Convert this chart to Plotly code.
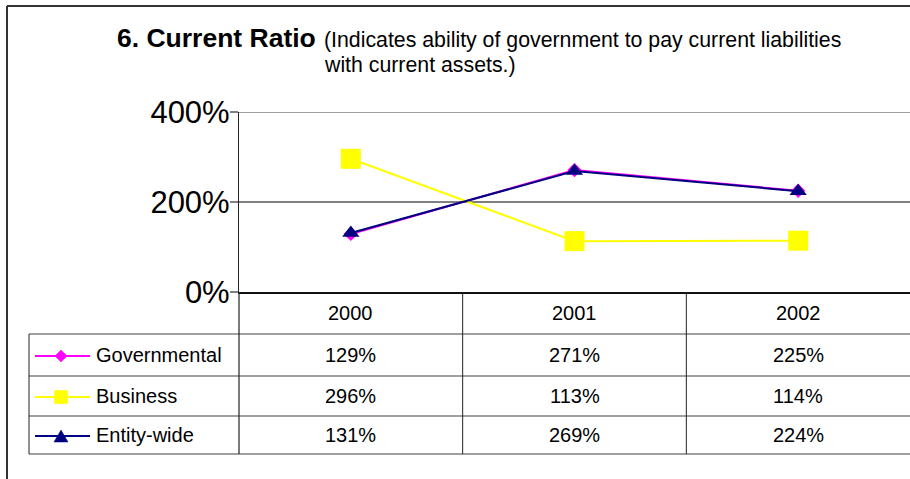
import plotly.graph_objects as go

# ---- data -------------------------------------------------------------
years = ["2000", "2001", "2002"]
governmental = [129, 271, 225]
business = [296, 113, 114]
entity_wide = [131, 269, 224]

series_names = ["Governmental", "Business", "Entity-wide"]
series_values = [governmental, business, entity_wide]
series_colors = ["#FF00FF", "#FFFF00", "#000080"]
series_symbols = ["diamond", "square", "triangle-up"]
chart_marker_sizes = [11, 20, 15]

y_ticks = [0, 200, 400]

# ---- layout geometry (pixels) -----------------------------------------
W, H = 910, 479
PLOT_L, PLOT_TOP, PLOT_BOTTOM = 239, 112, 292
TABLE_L = 29
ROW_EDGES = [292, 334, 376, 416, 454]
FONT = "Liberation Sans, Arial, sans-serif"


def px(x):
    return x / W


def py(y):
    return 1 - y / H


# small key glyphs drawn in pixel units around an anchor point
KEY_PATHS = {
    "diamond": "M0,6 L6,0 L0,-6 L-6,0 Z",
    "square": "M-6.5,-6.5 L6.5,-6.5 L6.5,6.5 L-6.5,6.5 Z",
    "triangle-up": "M-7,-6 L7,-6 L0,6 Z",
}

fig = go.Figure()

xs = list(range(len(years)))
for name, vals, col, sym, ms in zip(series_names, series_values, series_colors,
                                    series_symbols, chart_marker_sizes):
    fig.add_trace(go.Scatter(
        x=xs, y=vals, mode="lines+markers", name=name,
        line=dict(color=col, width=2),
        marker=dict(symbol=sym, size=ms, color=col),
        cliponaxis=False, showlegend=False,
    ))

shapes = []
annotations = []

# outer frame (left and top edges)
shapes.append(dict(type="line", xref="paper", yref="paper",
                   x0=px(7), x1=px(7), y0=py(6), y1=0,
                   line=dict(color="#333333", width=2)))
shapes.append(dict(type="line", xref="paper", yref="paper",
                   x0=px(7), x1=1, y0=py(6), y1=py(6),
                   line=dict(color="#333333", width=2)))

# top gridline of the value axis
shapes.append(dict(type="line", xref="paper", yref="y",
                   x0=px(PLOT_L), x1=1, y0=y_ticks[-1], y1=y_ticks[-1],
                   line=dict(color="#808080", width=1.5), layer="below"))

# data table grid
for y in ROW_EDGES[1:]:
    shapes.append(dict(type="line", xref="paper", yref="paper",
                       x0=px(TABLE_L), x1=1, y0=py(y), y1=py(y),
                       line=dict(color="#808080", width=1.5)))
shapes.append(dict(type="line", xref="paper", yref="paper",
                   x0=px(TABLE_L), x1=px(TABLE_L),
                   y0=py(ROW_EDGES[1]), y1=py(ROW_EDGES[-1]),
                   line=dict(color="#222222", width=1)))
shapes.append(dict(type="line", xref="paper", yref="paper",
                   x0=px(PLOT_L), x1=px(PLOT_L),
                   y0=py(PLOT_BOTTOM), y1=py(ROW_EDGES[-1]),
                   line=dict(color="#222222", width=1.2)))
for i in range(len(years) - 1):
    shapes.append(dict(type="line", xref="x", yref="paper",
                       x0=i + 0.5, x1=i + 0.5,
                       y0=py(ROW_EDGES[0]), y1=py(ROW_EDGES[-1]),
                       line=dict(color="#222222", width=1)))

# header row: years
hdr_y = (ROW_EDGES[0] + ROW_EDGES[1]) / 2
for i, yr in enumerate(years):
    annotations.append(dict(x=i, y=py(hdr_y), xref="x", yref="paper",
                            text=yr, showarrow=False, yanchor="middle",
                            font=dict(family=FONT, size=20, color="black")))

# value rows with legend keys
key_x0, key_x1, key_mx, label_x = 35, 90, 61, 94
for r, (name, vals, col, sym) in enumerate(zip(series_names, series_values,
                                               series_colors, series_symbols)):
    cy = (ROW_EDGES[r + 1] + ROW_EDGES[r + 2]) / 2
    for i, v in enumerate(vals):
        annotations.append(dict(x=i, y=py(cy), xref="x", yref="paper",
                                text=f"{v}%", showarrow=False, yanchor="middle",
                                font=dict(family=FONT, size=20, color="black")))
    annotations.append(dict(x=px(label_x), y=py(cy), xref="paper", yref="paper",
                            text=name, showarrow=False, xanchor="left",
                            yanchor="middle",
                            font=dict(family=FONT, size=20, color="black")))
    shapes.append(dict(type="line", xref="paper", yref="paper",
                       x0=px(key_x0), x1=px(key_x1), y0=py(cy + 1), y1=py(cy + 1),
                       line=dict(color=col, width=2)))
    shapes.append(dict(type="path", xref="paper", yref="paper",
                       xsizemode="pixel", ysizemode="pixel",
                       xanchor=px(key_mx), yanchor=py(cy + 1),
                       path=KEY_PATHS[sym], fillcolor=col,
                       line=dict(color=col, width=0.5)))

# title
annotations.append(dict(x=px(318), y=py(38), xref="paper", yref="paper",
                        text="<b>6. Current Ratio</b>", showarrow=False,
                        xanchor="right", yanchor="middle",
                        font=dict(family=FONT, size=26.5, color="black")))
annotations.append(dict(x=px(322), y=py(40), xref="paper", yref="paper",
                        text="(Indicates ability of government to pay current liabilities",
                        showarrow=False, xanchor="left", yanchor="middle",
                        font=dict(family=FONT, size=21.3, color="black")))
annotations.append(dict(x=px(322), y=py(65), xref="paper", yref="paper",
                        text="with current assets.)",
                        showarrow=False, xanchor="left", yanchor="middle",
                        font=dict(family=FONT, size=21.3, color="black")))

fig.update_layout(
    width=W, height=H,
    margin=dict(l=0, r=0, t=0, b=0, autoexpand=False),
    paper_bgcolor="white", plot_bgcolor="white",
    xaxis=dict(domain=[px(PLOT_L), 1], range=[-0.5, len(years) - 0.5],
               showticklabels=False, ticks="", showgrid=False, zeroline=False,
               showline=True, linecolor="#111111", linewidth=2,
               automargin=False),
    yaxis=dict(domain=[py(PLOT_BOTTOM), py(PLOT_TOP)], range=[0, 400],
               tickvals=y_ticks, ticktext=[f"{t}%" for t in y_ticks],
               ticks="outside", ticklen=8, tickcolor="#808080", tickwidth=1.5,
               ticklabelstandoff=-6,
               tickfont=dict(family=FONT, size=31, color="black"),
               showgrid=True, gridcolor="#808080", gridwidth=1.5,
               zeroline=False, showline=True, linecolor="#222222", linewidth=1.2,
               automargin=False),
    shapes=shapes,
    annotations=annotations,
    showlegend=False,
)

fig.write_html("out.html")
